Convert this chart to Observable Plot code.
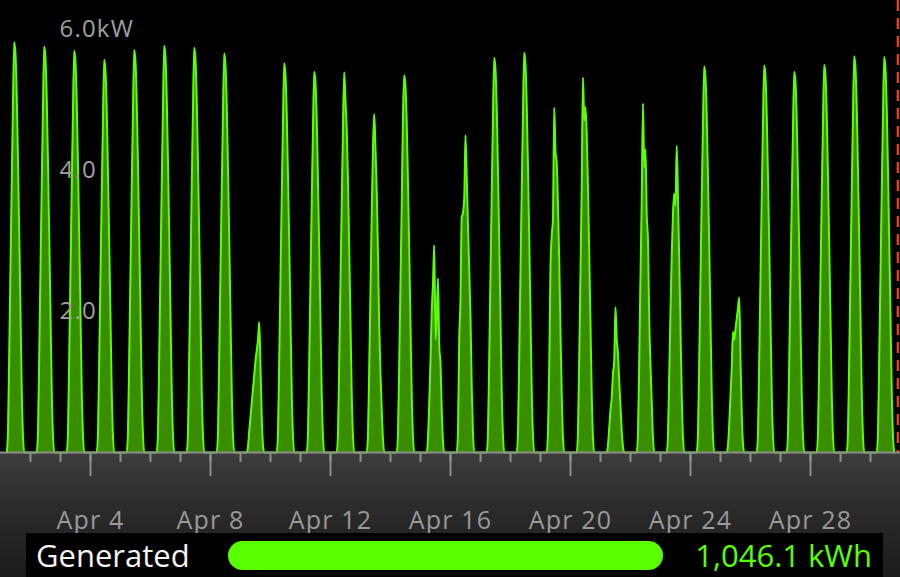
<!DOCTYPE html>
<html>
<head>
<meta charset="utf-8">
<script src="https://cdn.jsdelivr.net/npm/d3@7"></script>
<script src="https://cdn.jsdelivr.net/npm/@observablehq/plot@0.6"></script>
<style>
  html, body { margin: 0; padding: 0; background: #000; }
  #wrap { position: relative; width: 900px; height: 577px; background: #000; overflow: hidden; font-family: "Open Sans", sans-serif; }
  #band { position: absolute; left: 0; top: 452px; width: 900px; height: 125px;
          background: linear-gradient(to bottom, #3d3d3d 0%, #2b2b2b 45%, #1b1b1b 100%); }
  #chart { position: absolute; left: 0; top: 0; }
  #chart svg text { letter-spacing: 1.2px; }
  #summary { position: absolute; left: 26px; top: 533px; width: 857px; height: 44px; background: #000; }
  #summary .lbl { position: absolute; left: 10px; top: 0; line-height: 44px; font-size: 31px; color: #f4f4f4; white-space: nowrap; }
  #summary .bar { position: absolute; left: 202px; top: 8px; width: 435px; height: 29px; border-radius: 14.5px; background: #59ff00; }
  #summary .val { position: absolute; right: 11px; top: 0; line-height: 44px; font-size: 31px; color: #59ff00; white-space: nowrap; }
</style>
</head>
<body>
<div id="wrap">
  <div id="band"></div>
  <div id="chart"></div>
  <div id="summary">
    <div class="lbl" id="lbl"></div>
    <div class="bar"></div>
    <div class="val" id="val"></div>
  </div>
</div>
<script>
// ---- data ----
const monthStart = new Date(Date.UTC(2014, 3, 1));
const monthEnd = new Date(Date.UTC(2014, 4, 1));
const nowTime = new Date(Date.UTC(2014, 3, 30, 21, 50));
const hours = [5, 6, 7, 8, 9, 10, 11, 12, 13, 14, 15, 16, 17, 18, 19];
// kW per hour (5:00 .. 19:00) for Apr 1 .. Apr 30
const kw = [
  [0, 0.29, 1.40, 2.62, 3.84, 4.95, 5.82, 5.65, 5.06, 4.13, 3.08, 1.98, 0.87, 0.23, 0],
  [0, 0.29, 1.38, 2.59, 3.80, 4.90, 5.76, 5.59, 5.01, 4.09, 3.05, 1.96, 0.86, 0.23, 0],
  [0, 0.29, 1.37, 2.57, 3.76, 4.85, 5.70, 5.53, 4.96, 4.05, 3.02, 1.94, 0.86, 0.23, 0],
  [0, 0.28, 1.34, 2.51, 3.68, 4.73, 5.57, 5.40, 4.85, 3.95, 2.95, 1.89, 0.84, 0.22, 0],
  [0, 0.29, 1.37, 2.57, 3.77, 4.85, 5.71, 5.54, 4.97, 4.05, 3.03, 1.94, 0.86, 0.23, 0],
  [0, 0.29, 1.38, 2.60, 3.81, 4.90, 5.77, 5.60, 5.02, 4.10, 3.06, 1.96, 0.87, 0.23, 0],
  [0, 0.29, 1.38, 2.58, 3.79, 4.88, 5.74, 5.57, 4.99, 4.08, 3.04, 1.95, 0.86, 0.23, 0],
  [0, 0.28, 1.36, 2.55, 3.74, 4.81, 5.66, 5.49, 4.92, 4.02, 3.00, 1.92, 0.85, 0.23, 0],
  [0, 0.08, 0.30, 0.50, 0.70, 0.90, 1.10, 1.30, 1.45, 1.60, 1.85, 1.20, 0.50, 0.10, 0],
  [0, 0.28, 1.32, 2.48, 3.64, 4.69, 5.52, 5.35, 4.80, 3.92, 2.93, 1.88, 0.83, 0.22, 0],
  [0, 0.27, 1.30, 2.43, 3.56, 4.59, 5.40, 5.24, 4.70, 3.83, 2.86, 1.84, 0.81, 0.22, 0],
  [0, 0.27, 1.29, 2.42, 3.55, 4.60, 5.39, 4.99, 4.57, 3.85, 2.86, 1.83, 0.81, 0.22, 0],
  [0, 0.25, 1.20, 2.30, 3.40, 4.31, 4.80, 4.30, 3.70, 2.80, 1.77, 1.10, 0.60, 0.18, 0],
  [0, 0.27, 1.28, 2.41, 3.53, 4.78, 5.35, 5.19, 4.65, 3.80, 2.84, 1.82, 0.80, 0.21, 0],
  [0, 0.20, 0.70, 1.30, 2.00, 2.40, 2.94, 1.60, 1.90, 2.47, 1.50, 1.26, 0.60, 0.15, 0],
  [0, 0.30, 1.60, 2.16, 3.34, 3.40, 3.60, 4.50, 3.90, 3.20, 2.58, 1.90, 0.90, 0.25, 0],
  [0, 0.28, 1.34, 2.52, 3.70, 4.76, 5.60, 5.43, 4.87, 3.98, 2.97, 1.90, 0.84, 0.22, 0],
  [0, 0.28, 1.36, 2.55, 3.74, 4.82, 5.67, 5.50, 4.93, 4.03, 3.01, 1.93, 0.85, 0.23, 0],
  [0, 0.30, 1.20, 2.63, 3.08, 3.32, 4.89, 4.27, 4.10, 3.50, 2.70, 1.70, 0.80, 0.20, 0],
  [0, 0.30, 1.35, 2.55, 3.80, 5.32, 4.71, 4.90, 4.50, 3.75, 2.80, 1.80, 0.80, 0.20, 0],
  [0, 0.10, 0.35, 0.60, 0.78, 1.12, 1.30, 2.06, 1.60, 1.40, 1.00, 0.65, 0.30, 0.08, 0],
  [0, 0.28, 1.30, 2.50, 3.60, 4.95, 4.04, 4.30, 3.36, 3.00, 1.87, 1.23, 0.70, 0.20, 0],
  [0, 0.25, 1.10, 2.00, 2.80, 3.39, 3.67, 3.50, 4.35, 3.60, 2.70, 1.75, 0.80, 0.20, 0],
  [0, 0.27, 1.32, 2.47, 3.62, 4.66, 5.48, 5.32, 4.77, 3.89, 2.90, 1.86, 0.82, 0.22, 0],
  [0, 0.10, 0.40, 0.81, 1.20, 1.71, 1.60, 1.75, 1.90, 2.05, 2.20, 1.30, 0.55, 0.12, 0],
  [0, 0.27, 1.32, 2.47, 3.62, 4.67, 5.49, 5.33, 4.78, 3.90, 2.91, 1.87, 0.82, 0.22, 0],
  [0, 0.27, 1.30, 2.43, 3.56, 4.59, 5.40, 5.25, 4.70, 3.83, 2.86, 1.84, 0.81, 0.22, 0],
  [0, 0.28, 1.32, 2.48, 3.63, 4.68, 5.50, 5.34, 4.79, 3.91, 2.92, 1.87, 0.83, 0.22, 0],
  [0, 0.28, 1.35, 2.53, 3.71, 4.78, 5.62, 5.45, 4.89, 3.99, 2.98, 1.91, 0.84, 0.22, 0],
  [0, 0.28, 1.35, 2.52, 3.70, 4.77, 5.61, 5.44, 4.88, 3.98, 2.97, 1.91, 0.84, 0.22, 0]
];
const yTicks = [2, 4, 6];
const yTickLabels = ["2.0", "4.0", "6.0kW"];
const minorTickDays = [2, 3, 4, 5, 6, 7, 8, 9, 10, 11, 12, 13, 14, 15, 16, 17, 18, 19, 20, 21, 22, 23, 24, 25, 26, 27, 28, 29, 30];
const majorTickDays = [4, 8, 12, 16, 20, 24, 28];
const summaryLabel = "Generated";
const generatedKWh = "1,046.1 kWh";

// ---- build table ----
const series = [];
kw.forEach((row, d) => {
  row.forEach((v, i) => {
    series.push({t: new Date(Date.UTC(2014, 3, 1 + d, hours[i])), kw: v});
  });
});
const minorTicks = minorTickDays.map(d => new Date(Date.UTC(2014, 3, d)));
const majorTicks = majorTickDays.map(d => new Date(Date.UTC(2014, 3, d)));

const chart = Plot.plot({
  width: 900,
  height: 577,
  marginTop: 29,
  marginBottom: 125,
  marginLeft: 0,
  marginRight: 0,
  style: {background: "transparent", fontFamily: "Open Sans, sans-serif", overflow: "visible"},
  x: {type: "utc", domain: [monthStart, monthEnd], label: null},
  y: {domain: [0, 6], axis: null},
  marks: [
    Plot.areaY(series, {x: "t", y: "kw", fill: "#3a8d00", curve: "monotone-x"}),
    Plot.lineY(series, {x: "t", y: "kw", stroke: "#5cff00", strokeWidth: 2, curve: "monotone-x"}),
    Plot.ruleY([0], {stroke: "#8e8e8e", strokeWidth: 2}),
    Plot.axisX({ticks: minorTicks, tickSize: 10, tickFormat: () => "", stroke: "#8e8e8e", strokeWidth: 2, label: null}),
    Plot.axisX({ticks: majorTicks, tickSize: 24, tickPadding: 35, tickFormat: d => "Apr " + d.getUTCDate(),
      stroke: "#8e8e8e", strokeWidth: 2, fill: "#9a9a9a", fontSize: 25, label: null}),
    Plot.text(yTicks, {y: d => d, text: (d, i) => yTickLabels[i], frameAnchor: "left", dx: 59,
      textAnchor: "start", fill: "#a0a0a0", fontSize: 24}),
    Plot.ruleX([nowTime], {stroke: "#ec4a0a", strokeWidth: 2.2, strokeDasharray: "11,7", insetTop: -29})
  ]
});
document.getElementById("chart").appendChild(chart);
document.getElementById("lbl").textContent = summaryLabel;
document.getElementById("val").textContent = generatedKWh;
</script>
</body>
</html>
